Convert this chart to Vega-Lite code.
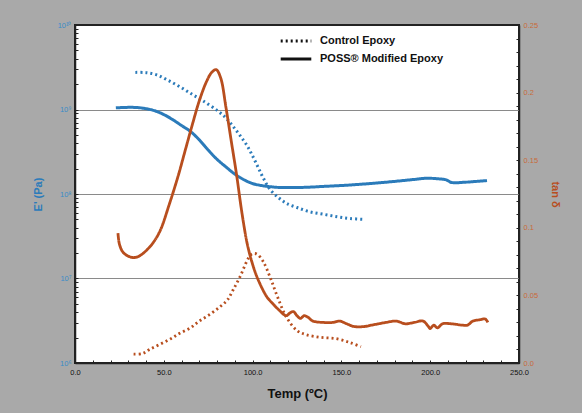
{
  "$schema": "https://vega.github.io/schema/vega-lite/v6.json",
  "autosize": "none",
  "padding": {"left": 75, "top": 25, "right": 63, "bottom": 50},
  "width": 444,
  "height": 338,
  "background": "#a9a9a9",
  "datasets": {
    "modulus": [
      {"material": "POSS® Modified Epoxy", "temp": 23, "modulus": 1.047e9},
      {"material": "POSS® Modified Epoxy", "temp": 30, "modulus": 1.06e9},
      {"material": "POSS® Modified Epoxy", "temp": 35, "modulus": 1.055e9},
      {"material": "POSS® Modified Epoxy", "temp": 40, "modulus": 1.023e9},
      {"material": "POSS® Modified Epoxy", "temp": 45, "modulus": 9.66e8},
      {"material": "POSS® Modified Epoxy", "temp": 50, "modulus": 8.71e8},
      {"material": "POSS® Modified Epoxy", "temp": 55, "modulus": 7.59e8},
      {"material": "POSS® Modified Epoxy", "temp": 60, "modulus": 6.46e8},
      {"material": "POSS® Modified Epoxy", "temp": 65, "modulus": 5.5e8},
      {"material": "POSS® Modified Epoxy", "temp": 70, "modulus": 4.37e8},
      {"material": "POSS® Modified Epoxy", "temp": 75, "modulus": 3.31e8},
      {"material": "POSS® Modified Epoxy", "temp": 80, "modulus": 2.57e8},
      {"material": "POSS® Modified Epoxy", "temp": 85, "modulus": 2.09e8},
      {"material": "POSS® Modified Epoxy", "temp": 90, "modulus": 1.72e8},
      {"material": "POSS® Modified Epoxy", "temp": 95, "modulus": 1.48e8},
      {"material": "POSS® Modified Epoxy", "temp": 100, "modulus": 1.33e8},
      {"material": "POSS® Modified Epoxy", "temp": 105, "modulus": 1.26e8},
      {"material": "POSS® Modified Epoxy", "temp": 110, "modulus": 1.22e8},
      {"material": "POSS® Modified Epoxy", "temp": 115, "modulus": 1.195e8},
      {"material": "POSS® Modified Epoxy", "temp": 120, "modulus": 1.19e8},
      {"material": "POSS® Modified Epoxy", "temp": 130, "modulus": 1.2e8},
      {"material": "POSS® Modified Epoxy", "temp": 140, "modulus": 1.23e8},
      {"material": "POSS® Modified Epoxy", "temp": 150, "modulus": 1.26e8},
      {"material": "POSS® Modified Epoxy", "temp": 160, "modulus": 1.3e8},
      {"material": "POSS® Modified Epoxy", "temp": 170, "modulus": 1.35e8},
      {"material": "POSS® Modified Epoxy", "temp": 180, "modulus": 1.41e8},
      {"material": "POSS® Modified Epoxy", "temp": 190, "modulus": 1.48e8},
      {"material": "POSS® Modified Epoxy", "temp": 198, "modulus": 1.535e8},
      {"material": "POSS® Modified Epoxy", "temp": 205, "modulus": 1.51e8},
      {"material": "POSS® Modified Epoxy", "temp": 209, "modulus": 1.47e8},
      {"material": "POSS® Modified Epoxy", "temp": 212, "modulus": 1.37e8},
      {"material": "POSS® Modified Epoxy", "temp": 220, "modulus": 1.38e8},
      {"material": "POSS® Modified Epoxy", "temp": 226, "modulus": 1.41e8},
      {"material": "POSS® Modified Epoxy", "temp": 232, "modulus": 1.44e8},
      {"material": "Control Epoxy", "temp": 34, "modulus": 2.75e9},
      {"material": "Control Epoxy", "temp": 40, "modulus": 2.73e9},
      {"material": "Control Epoxy", "temp": 46, "modulus": 2.57e9},
      {"material": "Control Epoxy", "temp": 52, "modulus": 2.24e9},
      {"material": "Control Epoxy", "temp": 59, "modulus": 1.86e9},
      {"material": "Control Epoxy", "temp": 66, "modulus": 1.51e9},
      {"material": "Control Epoxy", "temp": 72, "modulus": 1.27e9},
      {"material": "Control Epoxy", "temp": 80, "modulus": 9.77e8},
      {"material": "Control Epoxy", "temp": 85, "modulus": 7.94e8},
      {"material": "Control Epoxy", "temp": 89, "modulus": 6.31e8},
      {"material": "Control Epoxy", "temp": 93, "modulus": 4.9e8},
      {"material": "Control Epoxy", "temp": 97, "modulus": 3.7e8},
      {"material": "Control Epoxy", "temp": 100, "modulus": 2.82e8},
      {"material": "Control Epoxy", "temp": 103, "modulus": 2.09e8},
      {"material": "Control Epoxy", "temp": 106, "modulus": 1.55e8},
      {"material": "Control Epoxy", "temp": 110, "modulus": 1.12e8},
      {"material": "Control Epoxy", "temp": 115, "modulus": 8.91e7},
      {"material": "Control Epoxy", "temp": 119, "modulus": 7.76e7},
      {"material": "Control Epoxy", "temp": 125, "modulus": 6.92e7},
      {"material": "Control Epoxy", "temp": 132, "modulus": 6.17e7},
      {"material": "Control Epoxy", "temp": 140, "modulus": 5.75e7},
      {"material": "Control Epoxy", "temp": 148, "modulus": 5.37e7},
      {"material": "Control Epoxy", "temp": 155, "modulus": 5.13e7},
      {"material": "Control Epoxy", "temp": 163, "modulus": 5.01e7}
    ],
    "tand": [
      {"material": "POSS® Modified Epoxy", "temp": 24.2, "tan_delta": 0.096},
      {"material": "POSS® Modified Epoxy", "temp": 25, "tan_delta": 0.088},
      {"material": "POSS® Modified Epoxy", "temp": 27, "tan_delta": 0.082},
      {"material": "POSS® Modified Epoxy", "temp": 30, "tan_delta": 0.079},
      {"material": "POSS® Modified Epoxy", "temp": 33, "tan_delta": 0.078},
      {"material": "POSS® Modified Epoxy", "temp": 36, "tan_delta": 0.079},
      {"material": "POSS® Modified Epoxy", "temp": 40, "tan_delta": 0.083},
      {"material": "POSS® Modified Epoxy", "temp": 44, "tan_delta": 0.089},
      {"material": "POSS® Modified Epoxy", "temp": 48, "tan_delta": 0.098},
      {"material": "POSS® Modified Epoxy", "temp": 53, "tan_delta": 0.117},
      {"material": "POSS® Modified Epoxy", "temp": 58, "tan_delta": 0.138},
      {"material": "POSS® Modified Epoxy", "temp": 62, "tan_delta": 0.157},
      {"material": "POSS® Modified Epoxy", "temp": 66, "tan_delta": 0.176},
      {"material": "POSS® Modified Epoxy", "temp": 70, "tan_delta": 0.194},
      {"material": "POSS® Modified Epoxy", "temp": 74, "tan_delta": 0.208},
      {"material": "POSS® Modified Epoxy", "temp": 77, "tan_delta": 0.215},
      {"material": "POSS® Modified Epoxy", "temp": 79.5, "tan_delta": 0.217},
      {"material": "POSS® Modified Epoxy", "temp": 82, "tan_delta": 0.211},
      {"material": "POSS® Modified Epoxy", "temp": 85, "tan_delta": 0.189},
      {"material": "POSS® Modified Epoxy", "temp": 88, "tan_delta": 0.164},
      {"material": "POSS® Modified Epoxy", "temp": 91, "tan_delta": 0.139},
      {"material": "POSS® Modified Epoxy", "temp": 94, "tan_delta": 0.111},
      {"material": "POSS® Modified Epoxy", "temp": 97, "tan_delta": 0.088},
      {"material": "POSS® Modified Epoxy", "temp": 100, "tan_delta": 0.073},
      {"material": "POSS® Modified Epoxy", "temp": 103, "tan_delta": 0.062},
      {"material": "POSS® Modified Epoxy", "temp": 108, "tan_delta": 0.049},
      {"material": "POSS® Modified Epoxy", "temp": 112, "tan_delta": 0.043},
      {"material": "POSS® Modified Epoxy", "temp": 115, "tan_delta": 0.039},
      {"material": "POSS® Modified Epoxy", "temp": 119, "tan_delta": 0.035},
      {"material": "POSS® Modified Epoxy", "temp": 121, "tan_delta": 0.037},
      {"material": "POSS® Modified Epoxy", "temp": 123, "tan_delta": 0.038},
      {"material": "POSS® Modified Epoxy", "temp": 125, "tan_delta": 0.035},
      {"material": "POSS® Modified Epoxy", "temp": 127, "tan_delta": 0.033},
      {"material": "POSS® Modified Epoxy", "temp": 129, "tan_delta": 0.035},
      {"material": "POSS® Modified Epoxy", "temp": 131, "tan_delta": 0.034},
      {"material": "POSS® Modified Epoxy", "temp": 134, "tan_delta": 0.031},
      {"material": "POSS® Modified Epoxy", "temp": 140, "tan_delta": 0.03},
      {"material": "POSS® Modified Epoxy", "temp": 145, "tan_delta": 0.03},
      {"material": "POSS® Modified Epoxy", "temp": 149, "tan_delta": 0.031},
      {"material": "POSS® Modified Epoxy", "temp": 153, "tan_delta": 0.029},
      {"material": "POSS® Modified Epoxy", "temp": 157, "tan_delta": 0.027},
      {"material": "POSS® Modified Epoxy", "temp": 163, "tan_delta": 0.027},
      {"material": "POSS® Modified Epoxy", "temp": 167, "tan_delta": 0.028},
      {"material": "POSS® Modified Epoxy", "temp": 171, "tan_delta": 0.029},
      {"material": "POSS® Modified Epoxy", "temp": 175, "tan_delta": 0.03},
      {"material": "POSS® Modified Epoxy", "temp": 181, "tan_delta": 0.031},
      {"material": "POSS® Modified Epoxy", "temp": 186, "tan_delta": 0.029},
      {"material": "POSS® Modified Epoxy", "temp": 191, "tan_delta": 0.03},
      {"material": "POSS® Modified Epoxy", "temp": 196, "tan_delta": 0.031},
      {"material": "POSS® Modified Epoxy", "temp": 199, "tan_delta": 0.027},
      {"material": "POSS® Modified Epoxy", "temp": 200, "tan_delta": 0.0255},
      {"material": "POSS® Modified Epoxy", "temp": 202, "tan_delta": 0.028},
      {"material": "POSS® Modified Epoxy", "temp": 204, "tan_delta": 0.026},
      {"material": "POSS® Modified Epoxy", "temp": 207, "tan_delta": 0.029},
      {"material": "POSS® Modified Epoxy", "temp": 212, "tan_delta": 0.029},
      {"material": "POSS® Modified Epoxy", "temp": 218, "tan_delta": 0.028},
      {"material": "POSS® Modified Epoxy", "temp": 221, "tan_delta": 0.028},
      {"material": "POSS® Modified Epoxy", "temp": 224, "tan_delta": 0.031},
      {"material": "POSS® Modified Epoxy", "temp": 228, "tan_delta": 0.032},
      {"material": "POSS® Modified Epoxy", "temp": 231, "tan_delta": 0.0325},
      {"material": "POSS® Modified Epoxy", "temp": 232.5, "tan_delta": 0.03},
      {"material": "Control Epoxy", "temp": 33, "tan_delta": 0.0065},
      {"material": "Control Epoxy", "temp": 38, "tan_delta": 0.007},
      {"material": "Control Epoxy", "temp": 42, "tan_delta": 0.01},
      {"material": "Control Epoxy", "temp": 48, "tan_delta": 0.014},
      {"material": "Control Epoxy", "temp": 54, "tan_delta": 0.018},
      {"material": "Control Epoxy", "temp": 59, "tan_delta": 0.022},
      {"material": "Control Epoxy", "temp": 65, "tan_delta": 0.026},
      {"material": "Control Epoxy", "temp": 70, "tan_delta": 0.031},
      {"material": "Control Epoxy", "temp": 76, "tan_delta": 0.036},
      {"material": "Control Epoxy", "temp": 82, "tan_delta": 0.042},
      {"material": "Control Epoxy", "temp": 86, "tan_delta": 0.047},
      {"material": "Control Epoxy", "temp": 89, "tan_delta": 0.054},
      {"material": "Control Epoxy", "temp": 93, "tan_delta": 0.064},
      {"material": "Control Epoxy", "temp": 97, "tan_delta": 0.076},
      {"material": "Control Epoxy", "temp": 99, "tan_delta": 0.08},
      {"material": "Control Epoxy", "temp": 101, "tan_delta": 0.081},
      {"material": "Control Epoxy", "temp": 103, "tan_delta": 0.08},
      {"material": "Control Epoxy", "temp": 106, "tan_delta": 0.075},
      {"material": "Control Epoxy", "temp": 110, "tan_delta": 0.063},
      {"material": "Control Epoxy", "temp": 114, "tan_delta": 0.049},
      {"material": "Control Epoxy", "temp": 119, "tan_delta": 0.034},
      {"material": "Control Epoxy", "temp": 125, "tan_delta": 0.024},
      {"material": "Control Epoxy", "temp": 130, "tan_delta": 0.021},
      {"material": "Control Epoxy", "temp": 138, "tan_delta": 0.019},
      {"material": "Control Epoxy", "temp": 147, "tan_delta": 0.018},
      {"material": "Control Epoxy", "temp": 155, "tan_delta": 0.015},
      {"material": "Control Epoxy", "temp": 161, "tan_delta": 0.012}
    ]
  },
  "encoding": {
    "x": {
      "field": "temp",
      "type": "quantitative",
      "scale": {"domain": [0, 250], "nice": false},
      "axis": {
        "title": "Temp (ºC)",
        "titleFontSize": 13,
        "titleFontWeight": "bold",
        "titleColor": "#111",
        "titlePadding": 12,
        "values": [0, 10, 20, 30, 40, 50, 60, 70, 80, 90, 100, 110, 120, 130, 140, 150, 160, 170, 180, 190, 200, 210, 220, 230, 240, 250],
        "labelExpr": "datum.value % 50 == 0 ? format(datum.value, '.1f') : ''",
        "labelFlush": false,
        "labelOverlap": false,
        "labelColor": "#111",
        "tickSize": -3,
        "labelPadding": 8,
        "grid": false
      }
    }
  },
  "layer": [
    {
      "data": {"name": "modulus"},
      "mark": {"type": "line", "color": "#2b7bba", "strokeWidth": 3, "interpolate": "catmull-rom"},
      "encoding": {
        "y": {
          "field": "modulus",
          "type": "quantitative",
          "scale": {"type": "log", "domain": [1e6, 1e10], "nice": false},
          "axis": {
            "orient": "left",
            "title": "E' (Pa)",
            "titleColor": "#2b7bba",
            "titleFontSize": 11,
            "titleFontWeight": "bold",
            "titlePadding": 14,
            "values": [1e6, 2e6, 3e6, 4e6, 5e6, 6e6, 7e6, 8e6, 9e6, 1e7, 2e7, 3e7, 4e7, 5e7, 6e7, 7e7, 8e7, 9e7, 1e8, 2e8, 3e8, 4e8, 5e8, 6e8, 7e8, 8e8, 9e8, 1e9, 2e9, 3e9, 4e9, 5e9, 6e9, 7e9, 8e9, 9e9, 1e10],
            "labelExpr": "datum.value == 1e10 ? '10¹⁰' : datum.value == 1e9 ? '10⁹' : datum.value == 1e8 ? '10⁸' : datum.value == 1e7 ? '10⁷' : datum.value == 1e6 ? '10⁶' : ''",
            "labelOverlap": false,
            "labelColor": "#3a8cc8",
            "tickSize": -3,
            "labelPadding": 7,
            "grid": true,
            "gridColor": "#8a8a8a",
            "gridWidth": 1,
            "gridOpacity": {"condition": {"test": "indexof([1e7, 1e8, 1e9], datum.value) >= 0", "value": 1}, "value": 0}
          }
        },
        "strokeDash": {
          "field": "material",
          "type": "nominal",
          "scale": {"domain": ["Control Epoxy", "POSS® Modified Epoxy"], "range": [[2, 3], [1, 0]]},
          "legend": {
            "title": null,
            "orient": "none",
            "legendX": 211,
            "legendY": 6,
            "symbolType": "M-1.8,0H1.8",
            "symbolSize": 289,
            "symbolStrokeWidth": 3,
            "symbolStrokeColor": "#111",
            "labelFontSize": 11,
            "labelFontWeight": "bold",
            "labelColor": "#111",
            "labelOffset": 14,
            "rowPadding": 2,
            "encode": {"symbols": {"update": {"stroke": {"value": "#111"}}}}
          }
        }
      }
    },
    {
      "data": {"name": "tand"},
      "mark": {"type": "line", "color": "#b84e1e", "strokeWidth": 2.8, "interpolate": "catmull-rom"},
      "encoding": {
        "y": {
          "field": "tan_delta",
          "type": "quantitative",
          "scale": {"domain": [0, 0.25], "nice": false},
          "axis": {
            "orient": "right",
            "title": "tan δ",
            "titleAngle": 90,
            "titleColor": "#b84e1e",
            "titleFontSize": 11,
            "titleFontWeight": "bold",
            "titlePadding": 12,
            "values": [0, 0.01, 0.02, 0.03, 0.04, 0.05, 0.06, 0.07, 0.08, 0.09, 0.1, 0.11, 0.12, 0.13, 0.14, 0.15, 0.16, 0.17, 0.18, 0.19, 0.2, 0.21, 0.22, 0.23, 0.24, 0.25],
            "labelExpr": "round(datum.value * 100) % 5 == 0 ? (datum.value == 0 ? '0.0' : format(datum.value, '~g')) : ''",
            "labelOverlap": false,
            "labelColor": "#c86a3a",
            "tickSize": -3,
            "labelPadding": 7,
            "grid": false
          }
        },
        "strokeDash": {
          "field": "material",
          "type": "nominal",
          "legend": {
            "title": null,
            "orient": "none",
            "legendX": 211,
            "legendY": 6,
            "symbolType": "M-1.8,0H1.8",
            "symbolSize": 289,
            "symbolStrokeWidth": 3,
            "symbolStrokeColor": "#111",
            "labelFontSize": 11,
            "labelFontWeight": "bold",
            "labelColor": "#111",
            "labelOffset": 14,
            "rowPadding": 2,
            "encode": {"symbols": {"update": {"stroke": {"value": "#111"}}}}
          }
        }
      }
    }
  ],
  "resolve": {"scale": {"y": "independent"}, "axis": {"y": "independent"}},
  "config": {
    "font": "Liberation Sans",
    "view": {"fill": "white", "stroke": "#222", "strokeWidth": 2},
    "axis": {"labelFontSize": 7.5, "domainColor": "#222", "domainWidth": 1.5, "tickColor": "#222"}
  }
}
